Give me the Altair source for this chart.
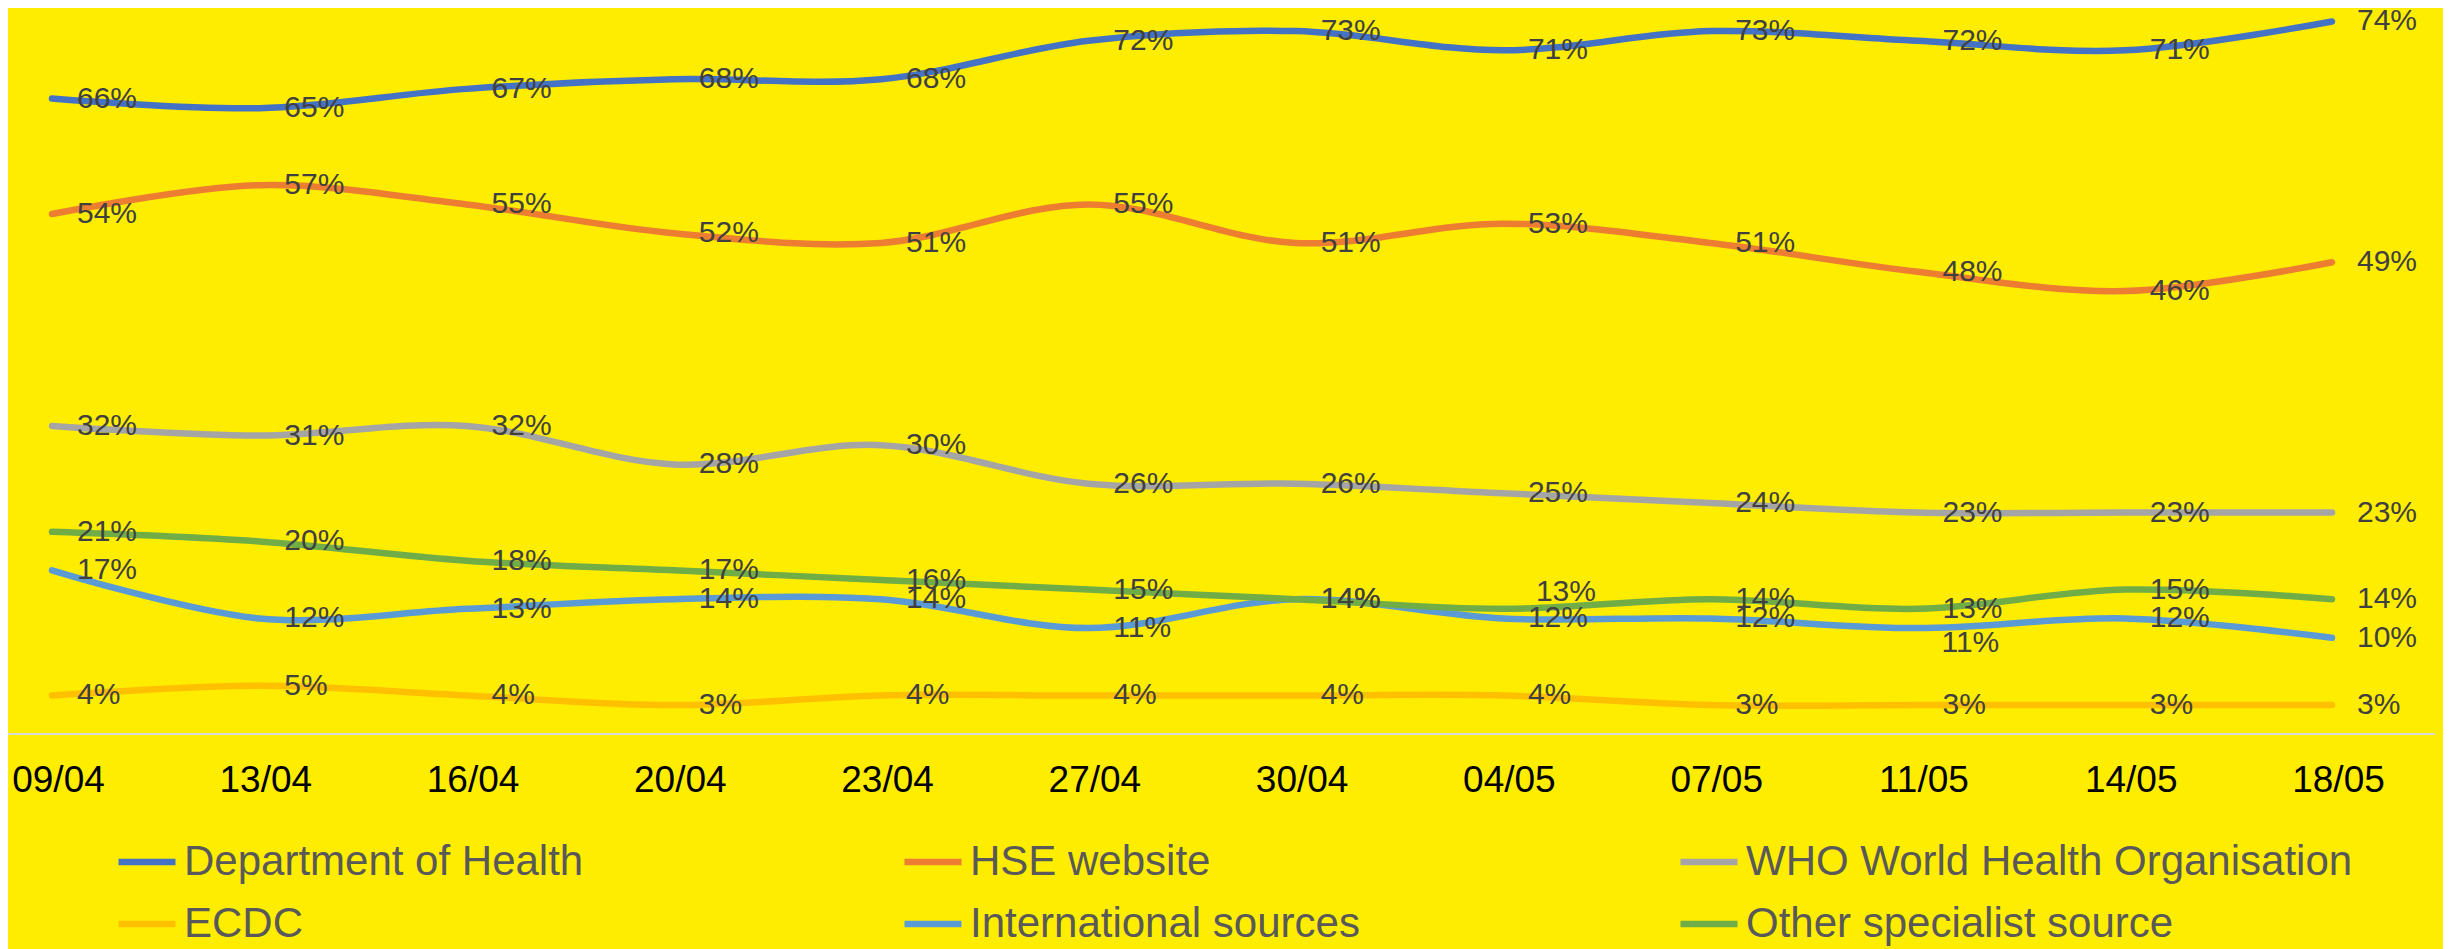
import altair as alt
import pandas as pd

dates = ["09/04", "13/04", "16/04", "20/04", "23/04", "27/04",
         "30/04", "04/05", "07/05", "11/05", "14/05", "18/05"]
series = ["Department of Health", "HSE website", "WHO World Health Organisation",
          "ECDC", "International sources", "Other specialist source"]
doh = [66, 65, 67, 68, 68, 72, 73, 71, 73, 72, 71, 74]
hse = [54, 57, 55, 52, 51, 55, 51, 53, 51, 48, 46, 49]
who = [32, 31, 32, 28, 30, 26, 26, 25, 24, 23, 23, 23]
ecdc = [4, 5, 4, 3, 4, 4, 4, 4, 3, 3, 3, 3]
intl = [17, 12, 13, 14, 14, 11, 14, 12, 12, 11, 12, 10]
other = [21, 20, 18, 17, 16, 15, 14, 13, 14, 13, 15, 14]
colors = ["#4472C4", "#ED7D31", "#A5A5A5", "#FFC000", "#5B9BD5", "#70AD47"]

rows = []
for s, vals in zip(series, [doh, hse, who, ecdc, intl, other]):
    for i, (d, v) in enumerate(zip(dates, vals)):
        rows.append({"date": d, "idx": i, "series": s, "value": v, "label": f"{v}%"})
df = pd.DataFrame(rows)

FONT = "Liberation Sans"

x = alt.X("date:N", sort=dates,
          scale=alt.Scale(type="point", range=[44, 2324], padding=0),
          axis=alt.Axis(title=None, domain=False, ticks=False, tickSize=0, grid=False,
                        labelAngle=0, labelFontSize=37, labelFont=FONT,
                        labelColor="#000000", labelPadding=28, labelOffset=6))
y = alt.Y("value:Q", scale=alt.Scale(domain=[0, 75.4]), axis=None)

base = alt.Chart(df)

baseline = alt.Chart(pd.DataFrame({"v": [0]})).mark_rule(
    color="#D9D9D9", strokeWidth=2).encode(
    y=alt.Y("v:Q", scale=alt.Scale(domain=[0, 75.4]), axis=None))

lines = base.mark_line(interpolate="cardinal", strokeWidth=6.5, strokeCap="round").encode(
    x=x, y=y,
    color=alt.Color("series:N", sort=series,
                    scale=alt.Scale(domain=series, range=colors),
                    legend=alt.Legend(orient="none", legendX=107, legendY=822,
                                      direction="horizontal", columns=3,
                                      columnPadding=307, rowPadding=9,
                                      symbolType="stroke", symbolSize=3249,
                                      symbolStrokeWidth=6.5, labelFontSize=42,
                                      labelFont=FONT, labelColor="#595959",
                                      labelOffset=5, labelLimit=0, title=None,
                                      padding=0)),
    order=alt.Order("idx:Q"))

moved_up = (alt.datum.series == "Other specialist source") & (alt.datum.date == "04/05")
moved_down = (alt.datum.series == "International sources") & (alt.datum.date == "11/05")

text_style = dict(align="left", baseline="middle", fontSize=30, font=FONT, color="#404040")

labels = base.transform_filter(~moved_up & ~moved_down).mark_text(dx=25, **text_style).encode(
    x=x, y=y, text="label:N")
labels_up = base.transform_filter(moved_up).mark_text(dx=33, dy=-17, **text_style).encode(
    x=x, y=y, text="label:N")
labels_down = base.transform_filter(moved_down).mark_text(dx=24, dy=15, **text_style).encode(
    x=x, y=y, text="label:N")

chart = alt.layer(baseline, lines, labels, labels_up, labels_down).properties(
    width=2427, height=726, background="#FFED00",
    autosize=alt.AutoSizeParams(type="none"),
    padding={"left": 0, "top": 0, "right": 8, "bottom": 215},
).configure_view(stroke=None)

chart.save("out.html", embed_options={"renderer": "svg", "actions": False})
